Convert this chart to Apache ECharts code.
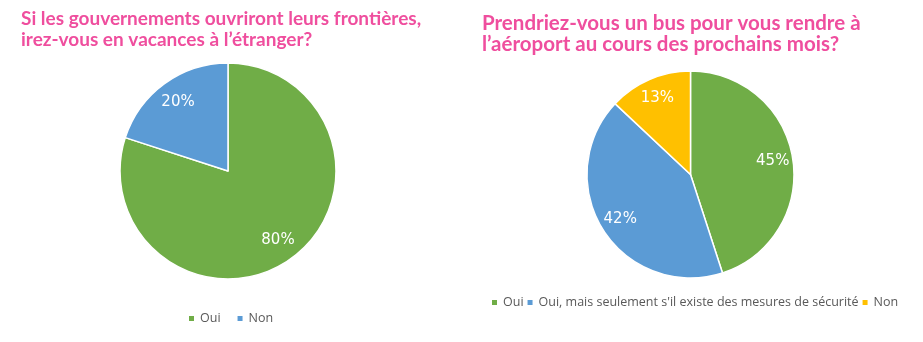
<!DOCTYPE html>
<html>
<head>
<meta charset="utf-8">
<script src="https://cdn.jsdelivr.net/npm/echarts@6/dist/echarts.min.js"></script>
<style>
html,body{margin:0;padding:0;background:#fff;}
#c{width:923px;height:342px;}
</style>
</head>
<body>
<div id="c"></div>
<script>
var title1 = "Si les gouvernements ouvriront leurs frontières,\nirez-vous en vacances à l’étranger?";
var title2 = "Prendriez-vous un bus pour vous rendre à\nl’aéroport au cours des prochains mois?";
var cats1 = ["Oui", "Non"];
var vals1 = [80, 20];
var colors1 = ["#70AD47", "#5B9BD5"];
var cats2 = ["Oui", "Oui, mais seulement s'il existe des mesures de sécurité", "Non"];
var vals2 = [45, 42, 13];
var colors2 = ["#70AD47", "#5B9BD5", "#FFC000"];

function mk(cats, vals, colors) {
  return cats.map(function (c, i) {
    return { name: c, value: vals[i], itemStyle: { color: colors ? colors[i] : "transparent" } };
  });
}
function legendData(cats, colors) {
  return cats.map(function (c, i) {
    return { name: c, itemStyle: { color: colors[i] } };
  });
}
var pink = "#EF4E9E";
var legendText = { color: "#595959", fontSize: 12.5, fontFamily: "Open Sans" };
var labelStyle = { show: true, position: "inside", formatter: "{c}%", color: "#fff", fontSize: 15, fontFamily: "DejaVu Sans" };

var chart = echarts.init(document.getElementById("c"));
chart.setOption({
  animation: false,
  title: [
    { text: title1, left: 21, top: 8, padding: 0, textStyle: { color: pink, fontSize: 19, fontWeight: "bold", fontFamily: "Lato", lineHeight: 21 } },
    { text: title2, left: 482, top: 13, padding: 0, textStyle: { color: pink, fontSize: 20.5, fontWeight: "bold", fontFamily: "Lato", lineHeight: 21 } }
  ],
  legend: [
    { data: legendData(cats1, colors1), left: 187, top: 312, padding: 0, itemWidth: 7, itemHeight: 7, itemGap: 15, icon: "rect", textStyle: legendText, selectedMode: false },
    { data: legendData(cats2, colors2), left: 490, top: 296, padding: 0, itemWidth: 7, itemHeight: 7, itemGap: 2, icon: "rect", textStyle: legendText, selectedMode: false }
  ],
  series: [
    { type: "pie", center: [228, 171], radius: [0, 108], startAngle: 90, clockwise: true, data: mk(cats1, vals1, colors1),
      itemStyle: { borderColor: "#fff", borderWidth: 1.5 }, label: { show: false }, labelLine: { show: false }, emphasis: { disabled: true } },
    { type: "pie", center: [228, 171], radius: [56, 108], startAngle: 90, clockwise: true, silent: true, data: mk(cats1, vals1, null),
      label: labelStyle, labelLine: { show: false }, emphasis: { disabled: true } },
    { type: "pie", center: [690.5, 174.5], radius: [0, 103.5], startAngle: 90, clockwise: true, data: mk(cats2, vals2, colors2),
      itemStyle: { borderColor: "#fff", borderWidth: 1.5 }, label: { show: false }, labelLine: { show: false }, emphasis: { disabled: true } },
    { type: "pie", center: [690.5, 174.5], radius: [57, 103.5], startAngle: 90, clockwise: true, silent: true, data: mk(cats2, vals2, null),
      label: labelStyle, labelLine: { show: false }, emphasis: { disabled: true } }
  ]
});
</script>
</body>
</html>
